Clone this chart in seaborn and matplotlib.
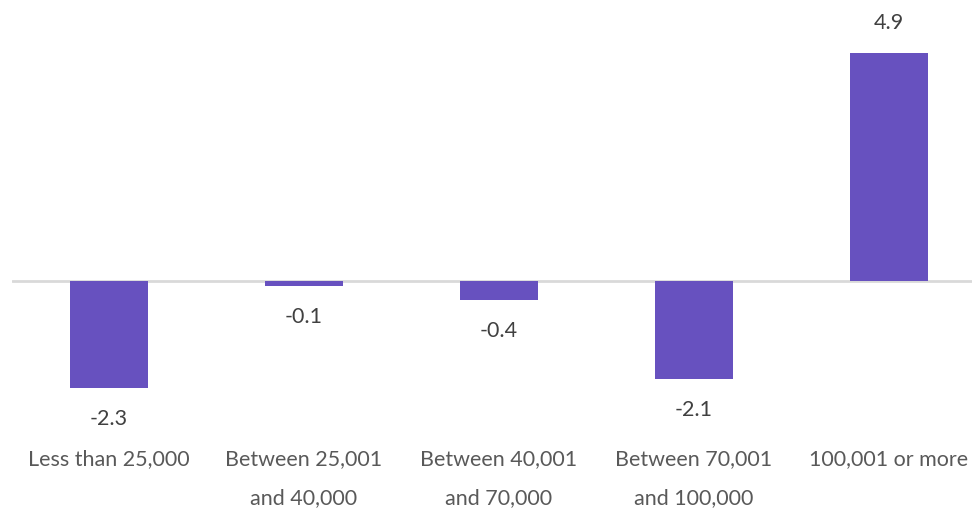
import matplotlib
matplotlib.use("Agg")
import matplotlib.pyplot as plt
import seaborn as sns
import pandas as pd

categories = ["Less than 25,000", "Between 25,001\nand 40,000", "Between 40,001\nand 70,000",
              "Between 70,001\nand 100,000", "100,001 or more"]
values = [-2.3, -0.1, -0.4, -2.1, 4.9]
value_labels = ["-2.3", "-0.1", "-0.4", "-2.1", "4.9"]

sns.set_theme(style="white")
plt.rcParams["font.family"] = ["Lato", "DejaVu Sans"]

df = pd.DataFrame({"band": categories, "change": values})

fig = plt.figure(figsize=(9.72, 5.08), dpi=100)
W, H = 972, 508
ax = fig.add_axes([12 / W, (H - 430) / H, (972 - 12) / W, 430 / H])

sns.barplot(data=df, x="band", y="change", color="#6751BF", width=0.4,
            saturation=1, ax=ax, edgecolor="none")

ax.set_xlim(-0.497, 4.426)
ax.set_ylim(-3.204, 6.043)
ax.axhline(0, color="#d9d9d9", lw=2, zorder=0)

for i, (v, lab) in enumerate(zip(values, value_labels)):
    off = 22 if v >= 0 else -22.5
    ax.annotate(lab, (i, v), xytext=(0, off), textcoords="offset points",
                ha="center", va="center", fontsize=15.5, color="#404040")

ax.set_xlabel("")
ax.set_ylabel("")
ax.set_yticks([])
ax.tick_params(axis="x", length=0, pad=14, labelsize=15.5, labelcolor="#595959")
for t in ax.get_xticklabels():
    t.set_linespacing(2.15)
for s in ax.spines.values():
    s.set_visible(False)

fig.savefig("out.png", dpi=100, facecolor="white")
